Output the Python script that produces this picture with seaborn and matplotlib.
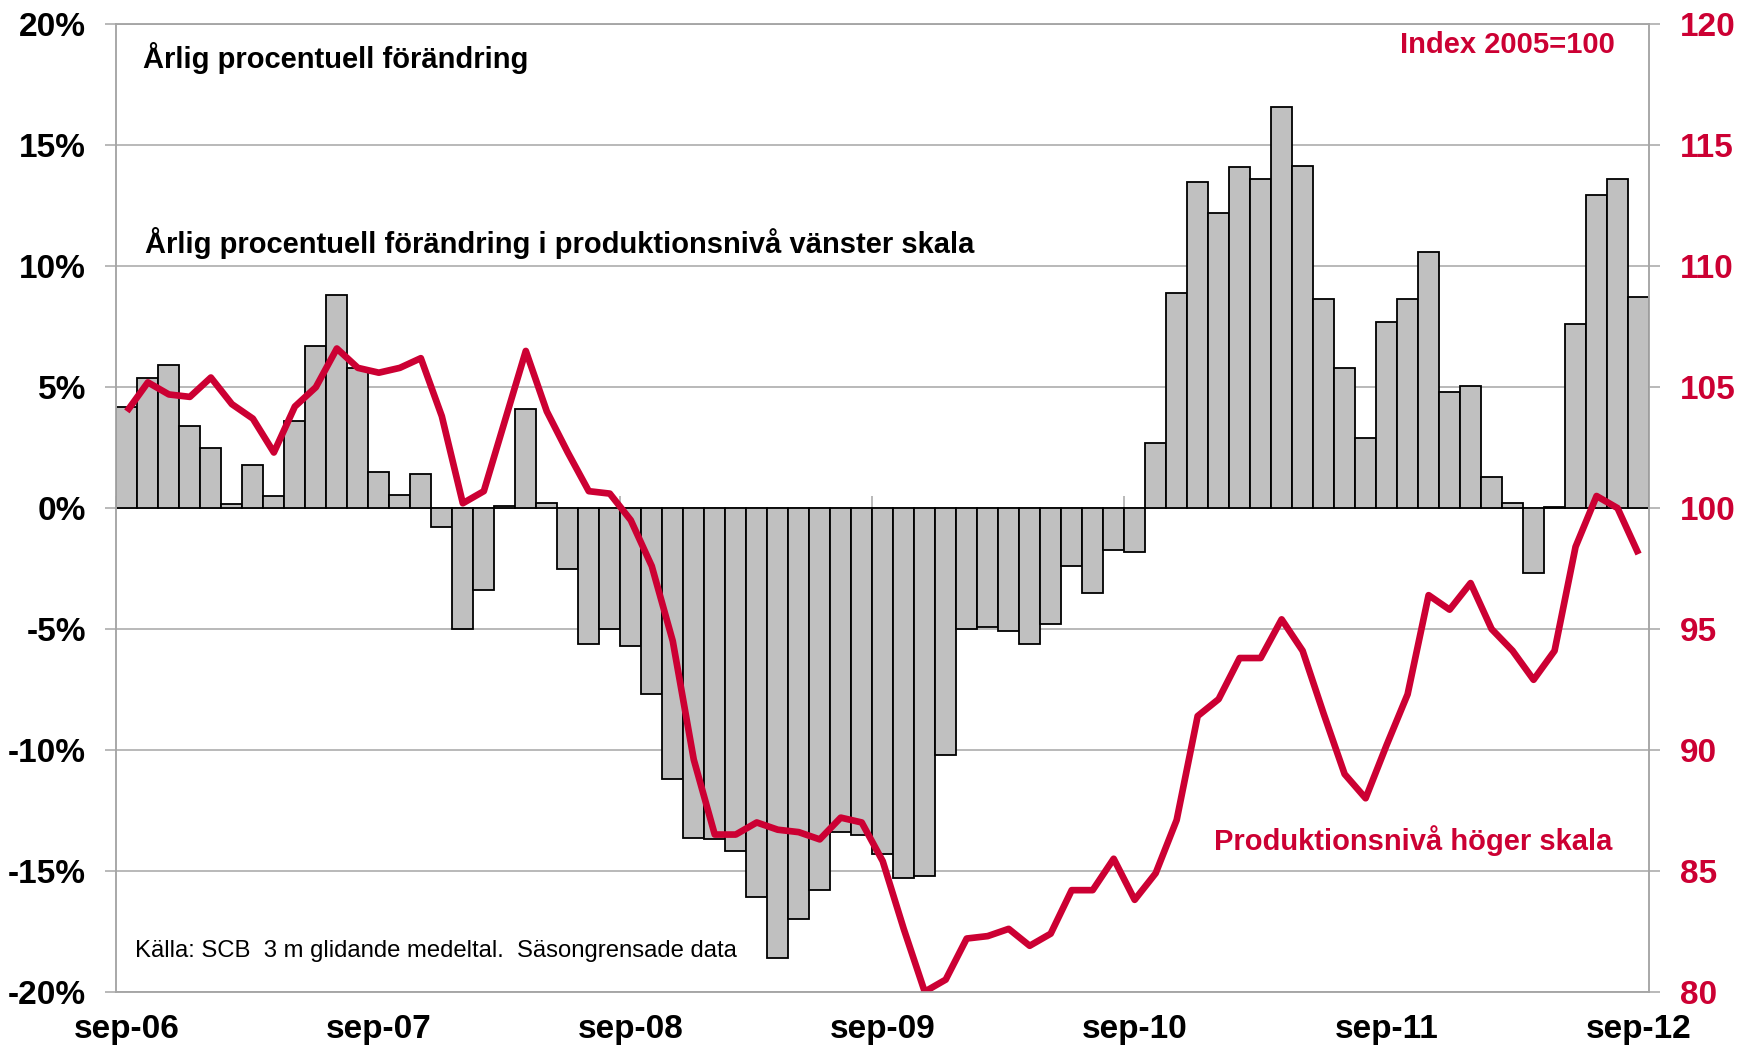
import matplotlib
matplotlib.use("Agg")

import numpy as np
import pandas as pd
import matplotlib.pyplot as plt
import seaborn as sns

# Årlig procentuell förändring (vänster skala), sep-06 .. sep-12
FORANDRING = [
    4.2, 5.4, 5.9, 3.4, 2.5, 0.15, 1.8, 0.5, 3.6, 6.7, 8.8, 5.8,
    1.5, 0.55, 1.4, -0.8, -5.0, -3.4, 0.1, 4.1, 0.2, -2.5, -5.6, -5.0,
    -5.7, -7.7, -11.2, -13.65, -13.7, -14.2, -16.1, -18.6, -17.0, -15.8, -13.4, -13.5,
    -14.3, -15.3, -15.2, -10.2, -5.0, -4.9, -5.1, -5.6, -4.8, -2.4, -3.5, -1.75,
    -1.8, 2.7, 8.9, 13.5, 12.2, 14.1, 13.6, 16.6, 14.15, 8.65, 5.8, 2.9,
    7.7, 8.65, 10.6, 4.8, 5.05, 1.3, 0.2, -2.7, 0.05, 7.6, 12.95, 13.6,
    8.75,
]

# Produktionsnivå, index 2005=100 (höger skala)
PRODUKTION = [
    104.0, 105.2, 104.7, 104.6, 105.4, 104.3, 103.7, 102.3, 104.2, 105.0, 106.6, 105.8,
    105.6, 105.8, 106.2, 103.8, 100.2, 100.7, 103.6, 106.5, 104.0, 102.3, 100.7, 100.6,
    99.5, 97.6, 94.5, 89.6, 86.5, 86.5, 87.0, 86.7, 86.6, 86.3, 87.2, 87.0,
    85.4, 82.6, 80.0, 80.5, 82.2, 82.3, 82.6, 81.9, 82.4, 84.2, 84.2, 85.5,
    83.8, 84.9, 87.1, 91.4, 92.1, 93.8, 93.8, 95.4, 94.1, 91.5, 89.0, 88.0,
    90.2, 92.3, 96.4, 95.8, 96.9, 95.0, 94.1, 92.9, 94.1, 98.4, 100.5, 100.0,
    98.1,
]

MANADER = pd.date_range("2006-09-01", periods=len(FORANDRING), freq="MS").strftime("%Y-%m")
TICK_LABELS = ["sep-06", "sep-07", "sep-08", "sep-09", "sep-10", "sep-11", "sep-12"]

ROD = "#CC0033"
GRA = "#A6A6A6"
STAPEL = "#C0C0C0"

sns.set_theme(style="white")
plt.rcParams["font.family"] = ["Liberation Sans", "DejaVu Sans"]
plt.rcParams["text.color"] = "black"


def main():
    df = pd.DataFrame({
        "manad": MANADER,
        "pos": np.arange(len(FORANDRING)),
        "forandring": FORANDRING,
        "index": PRODUKTION,
    })

    fig = plt.figure(figsize=(17.53, 10.51), dpi=100)
    ax = fig.add_axes([0.0664, 0.0564, 0.8743, 0.9203])

    sns.barplot(data=df, x="manad", y="forandring", color=STAPEL, saturation=1,
                edgecolor="black", linewidth=1.3, width=1.0, ax=ax)
    ax.set_axisbelow(True)
    ax.set_xlim(-0.5, len(df) - 0.5)
    ax.set_ylim(-20, 20)
    ax.set_yticks(range(-20, 21, 5))
    ax.set_yticklabels([f"{v}%" for v in range(-20, 21, 5)])
    ax.grid(axis="y", color=GRA, lw=1.1)
    ax.grid(axis="x", visible=False)
    ax.set_xlabel("")
    ax.set_ylabel("")

    tick_pos = df["pos"].iloc[::12].tolist()
    ax.set_xticks(tick_pos)
    ax.set_xticklabels(TICK_LABELS)
    ax.tick_params(axis="x", length=0, pad=16, labelsize=24, labelcolor="black")
    ax.tick_params(axis="y", direction="out", length=8, width=1.1, color=GRA,
                   pad=14, labelsize=24, labelcolor="black", left=True)
    for lab in ax.get_xticklabels() + ax.get_yticklabels():
        lab.set_fontweight("bold")
    for sp in ax.spines.values():
        sp.set_color(GRA)
        sp.set_linewidth(1.1)

    # kategoriaxeln korsar vid 0 %
    nolla = ax.secondary_xaxis(0.5)
    nolla.set_xticks([p - 0.5 for p in tick_pos])
    nolla.set_xticklabels([])
    nolla.tick_params(direction="out", length=9, width=1.1, color=GRA)
    nolla.spines["bottom"].set_color(GRA)
    nolla.spines["bottom"].set_linewidth(1.3)

    ax2 = ax.twinx()
    sns.lineplot(data=df, x="pos", y="index", color=ROD, lw=4.8, ax=ax2,
                 solid_joinstyle="round", solid_capstyle="butt")
    ax2.set_ylim(80, 120)
    ax2.set_yticks(range(80, 121, 5))
    ax2.set_ylabel("")
    ax2.tick_params(axis="y", direction="out", length=8, width=1.1, color=GRA,
                    pad=14, labelsize=24, labelcolor=ROD, right=True)
    for lab in ax2.get_yticklabels():
        lab.set_fontweight("bold")
    for sp in ax2.spines.values():
        sp.set_color(GRA)
        sp.set_linewidth(1.1)
    ax2.grid(False)

    ax.text(0.0174, 0.9653, "Årlig procentuell förändring", transform=ax.transAxes,
            fontsize=21, fontweight="bold", va="center", ha="left")
    ax.text(0.0189, 0.7745, "Årlig procentuell förändring i produktionsnivå vänster skala",
            transform=ax.transAxes, fontsize=21, fontweight="bold", va="center", ha="left")
    ax.text(0.978, 0.979, "Index 2005=100", transform=ax.transAxes, color=ROD,
            fontsize=21, fontweight="bold", va="center", ha="right")
    ax2.text(0.716, 0.156, "Produktionsnivå höger skala", transform=ax2.transAxes,
             color=ROD, fontsize=21, fontweight="bold", va="center", ha="left")
    ax.text(0.0124, 0.0416, "Källa: SCB  3 m glidande medeltal.  Säsongrensade data",
            transform=ax.transAxes, fontsize=17.2, va="center", ha="left")

    fig.savefig("out.png", dpi=100)
    plt.close(fig)


if __name__ == "__main__":
    main()
